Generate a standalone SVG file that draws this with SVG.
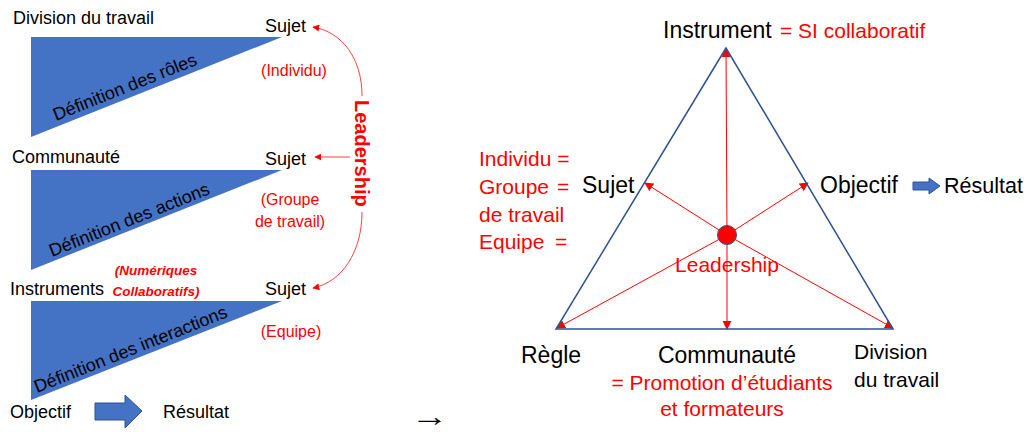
<svg xmlns="http://www.w3.org/2000/svg" width="1029" height="432" viewBox="0 0 1029 432">
<style>
text{font-family:"Liberation Sans","DejaVu Sans",sans-serif;}
.k{fill:#000;font-size:18px;}
.r{fill:#FF0000;font-size:16px;}
.rb{fill:#FF0000;font-size:13.5px;font-weight:bold;font-style:italic;}
.kl{fill:#000;font-size:23px;}
.rl{fill:#FF0000;font-size:21px;}
.tri{fill:#4472C4;}
.blk{fill:#4472C4;stroke:#2F528F;stroke-width:1;}
.rl1{stroke:#FF0000;stroke-width:1;fill:none;}
.rl2{stroke:#FF4040;stroke-width:1;fill:none;}
</style>
<defs>
<marker id="ah" viewBox="0 0 10 10" refX="9" refY="5" markerWidth="7" markerHeight="7" orient="auto" markerUnits="userSpaceOnUse">
<path d="M0,0 L10,5 L0,10 z" fill="#FF0000"/>
</marker>
<marker id="ah2" viewBox="0 0 10 10" refX="9" refY="5" markerWidth="9" markerHeight="9" orient="auto" markerUnits="userSpaceOnUse">
<path d="M0,0 L10,5 L0,10 z" fill="#FF0000"/>
</marker>
</defs>

<g id="left-level1">
<polygon class="tri" points="31,37 282,37 31,137"/>
<text class="k" x="13" y="24">Division du travail</text>
<text class="k" x="265" y="32">Sujet</text>
<text class="r" x="294" y="76" text-anchor="middle">(Individu)</text>
<text class="k" transform="translate(56,121) rotate(-21.7)">Définition des rôles</text>
</g>

<g id="left-level2">
<polygon class="tri" points="31,170 282,170 31,270"/>
<text class="k" x="12" y="163">Communauté</text>
<text class="k" x="265" y="165">Sujet</text>
<text class="r" x="290" y="205" text-anchor="middle">(Groupe</text>
<text class="r" x="290" y="227" text-anchor="middle">de travail)</text>
<text class="k" transform="translate(52,257) rotate(-21.7)">Définition des actions</text>
</g>

<g id="left-level3">
<polygon class="tri" points="31,301 282,301 31,400"/>
<text class="k" x="10" y="295">Instruments</text>
<text class="rb" x="156" y="275" text-anchor="middle">(Numériques</text>
<text class="rb" x="156" y="296" text-anchor="middle">Collaboratifs)</text>
<text class="k" x="265" y="295">Sujet</text>
<text class="r" x="291" y="337" text-anchor="middle">(Equipe)</text>
<text class="k" transform="translate(37,393) rotate(-21.7)">Définition des interactions</text>
</g>

<g id="left-result">
<text class="k" x="10" y="418">Objectif</text>
<polygon class="blk" points="95,403 125,403 125,395 142,411 125,428 125,420 95,420"/>
<text class="k" x="163" y="418">Résultat</text>
</g>

<g id="leadership-left">
<text x="0" y="0" transform="translate(355,100) rotate(90)" style="fill:#FF0000;font-size:20px;font-weight:bold;">Leadership</text>
</g>

<g id="connectors">
<path class="rl2" d="M362,96 C362,58 342,32 313,27" marker-end="url(#ah)"/>
<path class="rl2" d="M350,157 L315,157" marker-end="url(#ah)"/>
<path class="rl2" d="M362,212 C362,252 342,282 313,288" marker-end="url(#ah)"/>

<path class="rl1" d="M727,235 L726,49" marker-end="url(#ah2)"/>
<path class="rl1" d="M727,235 L645,183" marker-end="url(#ah2)"/>
<path class="rl1" d="M727,235 L808,183" marker-end="url(#ah2)"/>
<path class="rl1" d="M727,235 L557,328" marker-end="url(#ah2)"/>
<path class="rl1" d="M727,235 L727,329" marker-end="url(#ah2)"/>
<path class="rl1" d="M727,235 L893,328" marker-end="url(#ah2)"/>
</g>

<g id="triangle">
<polygon points="726,48 556,329 893,329" fill="none" stroke="#2F528F" stroke-width="1.5"/>
</g>

<g id="center">
<circle cx="727" cy="235" r="9.5" fill="#FF0000" stroke="#2F528F" stroke-width="1"/>
<text class="rl" x="727" y="272" text-anchor="middle">Leadership</text>
</g>

<g id="instrument">
<text class="kl" x="663" y="38">Instrument</text>
<text class="rl" x="780" y="38">= SI collaboratif</text>
</g>

<g id="sujet">
<text class="kl" x="582" y="193">Sujet</text>
<text class="rl" x="479" y="166">Individu =</text>
<text class="rl" x="479" y="194">Groupe<tspan x="557">=</tspan></text>
<text class="rl" x="479" y="222">de travail</text>
<text class="rl" x="479" y="249">Equipe<tspan x="555">=</tspan></text>
</g>

<g id="objectif">
<text class="kl" x="820" y="193">Objectif</text>
<polygon class="blk" points="913,182 929,182 929,178 940,186 929,194 929,190 913,190"/>
<text class="kl" x="944" y="193" style="font-size:21.5px;">Résultat</text>
</g>

<g id="regle">
<text class="kl" x="521" y="363">Règle</text>
</g>

<g id="communaute">
<text class="kl" x="727" y="363" text-anchor="middle">Communauté</text>
<text class="rl" x="722" y="390" text-anchor="middle">= Promotion d’étudiants</text>
<text class="rl" x="722" y="416" text-anchor="middle">et formateurs</text>
</g>

<g id="division">
<text class="kl" x="854" y="359" style="font-size:21px;">Division</text>
<text class="kl" x="854" y="387" style="font-size:21px;">du travail</text>
</g>

<text transform="translate(411,426) scale(1.35,1)" style="fill:#000;font-size:28px;font-weight:bold;">→</text>
</svg>
